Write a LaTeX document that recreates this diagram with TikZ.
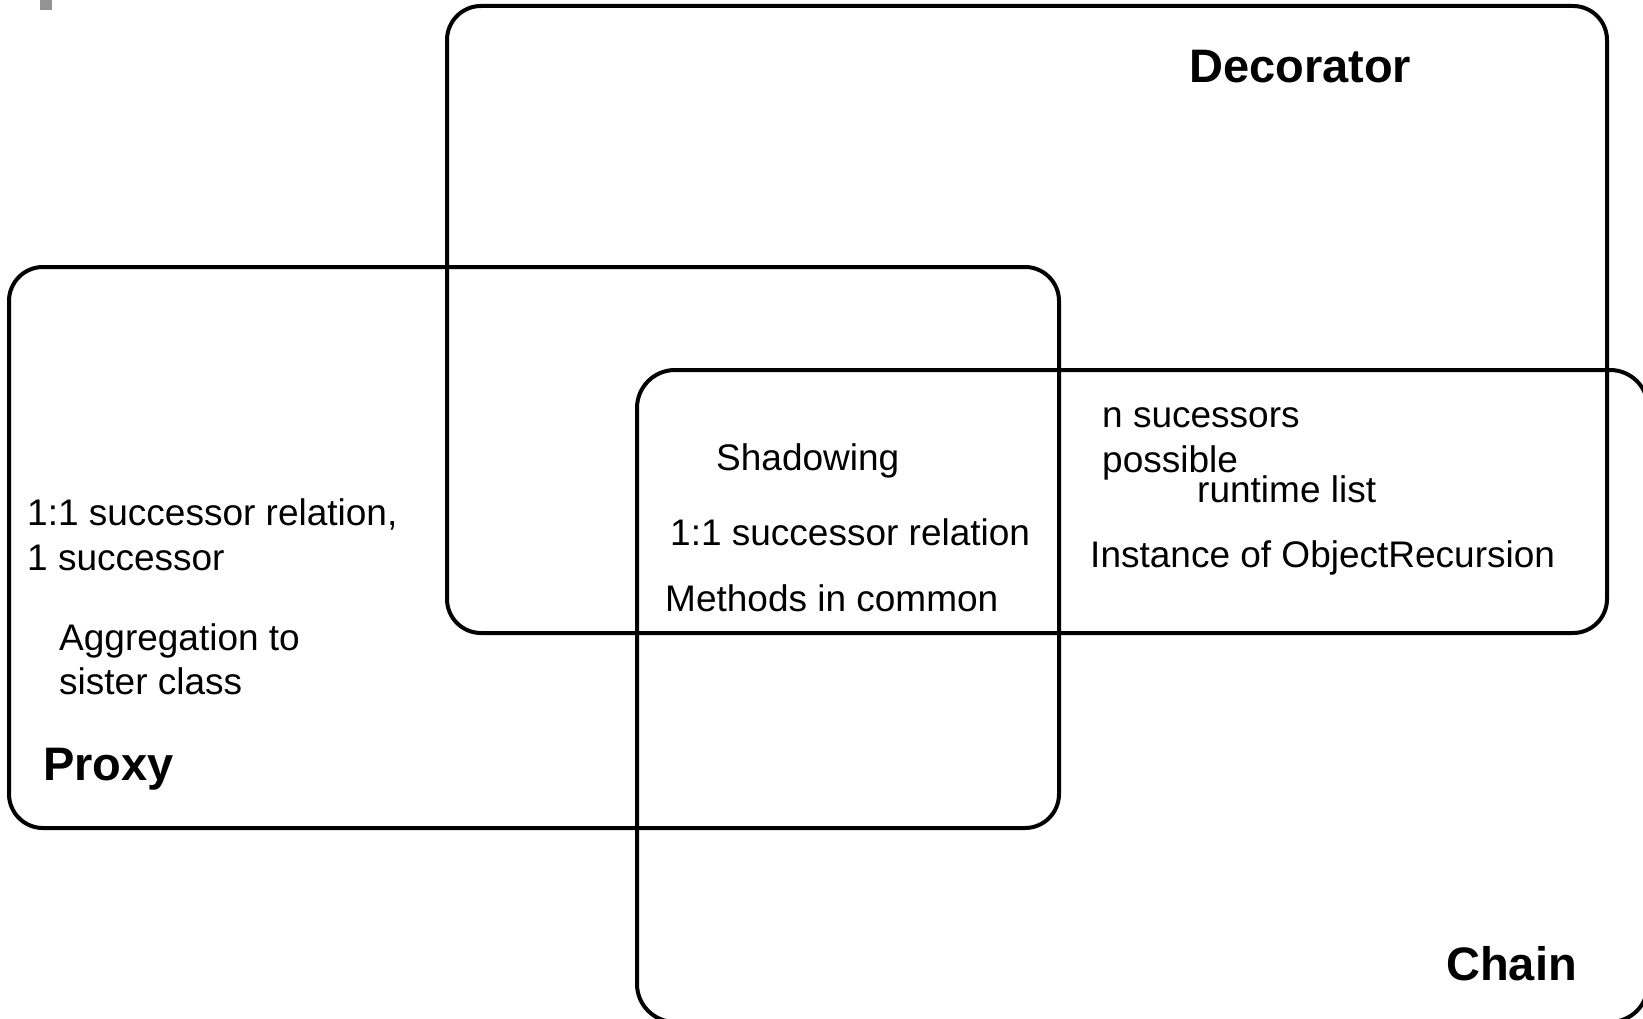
\documentclass[tikz,border=0pt]{standalone}
\usepackage{fontspec}
\setmainfont{Liberation Sans}
\begin{document}
\begin{tikzpicture}[x=1pt,y=-1pt,
  region/.style={draw=black,line width=4pt,rounded corners=34pt},
  note/.style={anchor=base west,inner sep=0pt,font=\fontsize{37}{44}\selectfont},
  title/.style={anchor=base west,inner sep=0pt,font=\fontsize{47}{56}\selectfont\bfseries}]
\useasboundingbox (0,0) rectangle (1643,1019);
\clip (0,0) rectangle (1643,1019);
% small grey mark in the corner
\fill[gray!85] (40,0) rectangle (52,10);
% the three overlapping regions
\draw[region] (447,6) rectangle (1607,633);
\draw[region] (9,267) rectangle (1059,828);
\draw[region,rounded corners=38pt] (637,370) rectangle (1648,1022);
% region titles
\node[title] (dec) at (1189,83) {Decorator};
\node[title] (prx) at (43,780) {Proxy};
\node[title] (chn) at (1446,980) {Chain};
% proxy notes
\node[note] (p1) at (27,525) {1:1 successor relation,};
\node[note] (p2) at (27,570) {1 successor};
\node[note] (p3) at (59,650) {Aggregation to};
\node[note] (p4) at (59,694) {sister class};
% shared notes
\node[note] (c1) at (716,470) {Shadowing};
\node[note] (c2) at (670,545) {1:1 successor relation};
\node[note] (c3) at (665,611) {Methods in common};
% decorator/chain notes
\node[note] (d1) at (1102,427) {n sucessors};
\node[note] (d2) at (1102,472) {possible};
\node[note] (d3) at (1197,502) {runtime list};
\node[note] (d4) at (1090,567) {Instance of ObjectRecursion};
\end{tikzpicture}
\end{document}
